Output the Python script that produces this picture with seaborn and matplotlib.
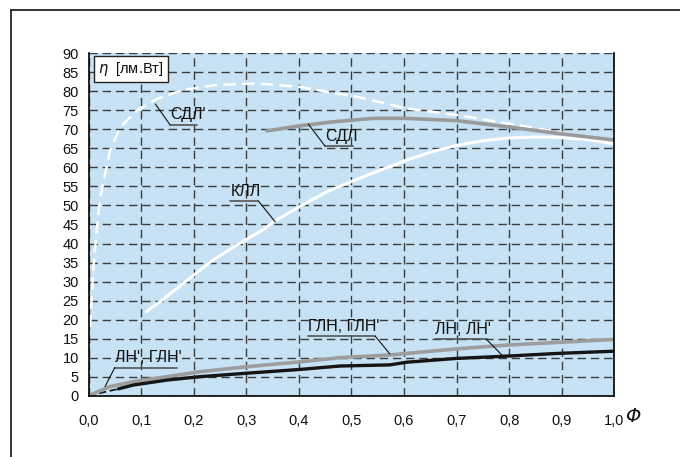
import numpy as np
import pandas as pd
import matplotlib
matplotlib.use("Agg")
import matplotlib.pyplot as plt
import seaborn as sns
from matplotlib.lines import Line2D

# ---------------- data ----------------
sdl_p_x = [0.003, 0.009, 0.016, 0.022, 0.041, 0.06, 0.092, 0.13, 0.18, 0.244, 0.32, 0.40, 0.47, 0.51, 0.605, 0.70, 0.795, 0.89, 1.0]
sdl_p_y = [18, 33, 44, 52, 64.5, 70.5, 75, 78, 80.4, 81.7, 82.1, 81.2, 79.5, 78.6, 75.5, 73.8, 71.6, 69.4, 66.8]

sdl_x = [0.339, 0.40, 0.466, 0.542, 0.605, 0.70, 0.795, 0.89, 1.0]
sdl_y = [69.6, 70.9, 72.0, 72.9, 72.9, 72.3, 70.7, 69.0, 67.2]

kll_x = [0.11, 0.136, 0.18, 0.237, 0.288, 0.332, 0.351, 0.402, 0.45, 0.50, 0.542, 0.605, 0.65, 0.70, 0.75, 0.795, 0.85, 0.89, 0.95, 1.0]
kll_y = [22.1, 24.7, 29.5, 35.7, 40.1, 43.6, 45.7, 49.7, 53.4, 56.3, 58.6, 61.9, 64.0, 65.8, 67.0, 67.7, 68.0, 67.9, 67.3, 66.2]

gln_x = [0.0, 0.041, 0.085, 0.149, 0.212, 0.30, 0.402, 0.478, 0.573, 0.70, 0.795, 1.0]
gln_y = [0.0, 2.4, 3.7, 5.0, 6.3, 7.6, 8.9, 10.0, 10.7, 12.3, 13.3, 14.8]

ln_x = [0.057, 0.085, 0.149, 0.212, 0.30, 0.402, 0.478, 0.573, 0.605, 0.70, 0.795, 0.89, 1.0]
ln_y = [1.8, 2.8, 4.1, 5.0, 5.9, 6.9, 7.8, 8.1, 8.8, 9.8, 10.4, 11.1, 11.7]

ln_p_x = [0.0, 0.057]
ln_p_y = [0.0, 1.8]

x_ticks = [0.0, 0.1, 0.2, 0.3, 0.4, 0.5, 0.6, 0.7, 0.8, 0.9, 1.0]
x_tick_labels = ["0,0", "0,1", "0,2", "0,3", "0,4", "0,5", "0,6", "0,7", "0,8", "0,9", "1,0"]
y_ticks = list(range(0, 91, 5))

# labels: text, text-left x, text-center y, underline end x, leader start (which end), leader target
labels = [
    ("СДЛ'", 0.155, 74.1, 0.206, "left", (0.127, 76.7)),
    ("СДЛ", 0.450, 68.5, 0.503, "left", (0.418, 71.4)),
    ("КЛЛ", 0.270, 54.1, 0.323, "right", (0.355, 45.7)),
    ("ГЛН, ГЛН'", 0.417, 18.6, 0.545, "right", (0.573, 11.0)),
    ("ЛН, ЛН'", 0.659, 17.7, 0.757, "right", (0.789, 10.3)),
    ("ЛН', ГЛН'", 0.050, 10.3, 0.168, "left", (0.0315, 2.4)),
]

# ---------------- figure ----------------
sns.set_theme(style="white")
plt.rcParams["font.family"] = ["Liberation Sans", "DejaVu Sans"]

fig = plt.figure(figsize=(6.8, 4.57), dpi=100)
W, H = 680, 457
ax = fig.add_axes([88.5 / W, 1 - 395.7 / H, (614.3 - 88.5) / W, (395.7 - 53.3) / H])
ax.set_facecolor("#c6e2f4")

ax.set_xlim(0, 1.0)
ax.set_ylim(0, 90)
ax.set_xticks(x_ticks)
ax.set_xticklabels(x_tick_labels)
ax.set_yticks(y_ticks)
ax.tick_params(axis="both", direction="out", length=4, width=1, color="black",
               labelsize=10.5, labelcolor="#111111", pad=3)
ax.tick_params(axis="x", pad=9)

ax.grid(True, color="#3c3c3c", linestyle=(0, (6, 3.5)), linewidth=1.0)
ax.set_axisbelow(True)
for s in ["left", "bottom", "right"]:
    ax.spines[s].set_visible(True)
    ax.spines[s].set_color("black")
    ax.spines[s].set_linewidth(1.2)
ax.spines["top"].set_visible(False)

# curves
sns.lineplot(x=kll_x, y=kll_y, ax=ax, color="white", linewidth=2.2, sort=False, estimator=None)
sns.lineplot(x=sdl_p_x, y=sdl_p_y, ax=ax, color="white", linewidth=1.8, sort=False, estimator=None)
ax.lines[-1].set_dashes([5, 2.5])
sns.lineplot(x=sdl_x, y=sdl_y, ax=ax, color="#9a9a9a", linewidth=2.6, sort=False, estimator=None)
sns.lineplot(x=ln_p_x, y=ln_p_y, ax=ax, color="#1a1a1a", linewidth=1.3, sort=False, estimator=None)
ax.lines[-1].set_dashes([4, 2])
sns.lineplot(x=gln_x, y=gln_y, ax=ax, color="#9d9d9d", linewidth=2.6, sort=False, estimator=None)
sns.lineplot(x=ln_x, y=ln_y, ax=ax, color="#151515", linewidth=2.4, sort=False, estimator=None)

# labels with underline and leader
for txt, tx, ty, ux, side, tgt in labels:
    ax.text(tx, ty - 1.5, txt, fontsize=11.5, color="#111111", ha="left", va="baseline", zorder=6)
    uy = ty - 2.9
    ax.plot([tx, ux], [uy, uy], color="#555555", linewidth=1.2, zorder=6)
    sx = tx if side == "left" else ux
    ax.plot([sx, tgt[0]], [uy, tgt[1]], color="#111111", linewidth=0.8, zorder=6)

# eta box
ax.text(0.018, 0.954, r"$\eta$  [лм.Вт]", transform=ax.transAxes, fontsize=10.5,
        ha="left", va="center", color="#111111",
        bbox=dict(boxstyle="square,pad=0.3", facecolor="white", edgecolor="#222222", linewidth=1.0),
        zorder=7)

# Phi label
fig.text(625 / W, 1 - 417 / H, "Φ", fontsize=14, style="italic", family="DejaVu Sans",
         ha="left", va="center", color="#111111")

# outer frame (left and top)
fig.add_artist(Line2D([11 / W, 11 / W], [0, 1 - 10 / H], transform=fig.transFigure, color="#222222", linewidth=1.3))
fig.add_artist(Line2D([11 / W, 1], [1 - 10 / H, 1 - 10 / H], transform=fig.transFigure, color="#222222", linewidth=1.3))

fig.savefig("out.png", dpi=100)
